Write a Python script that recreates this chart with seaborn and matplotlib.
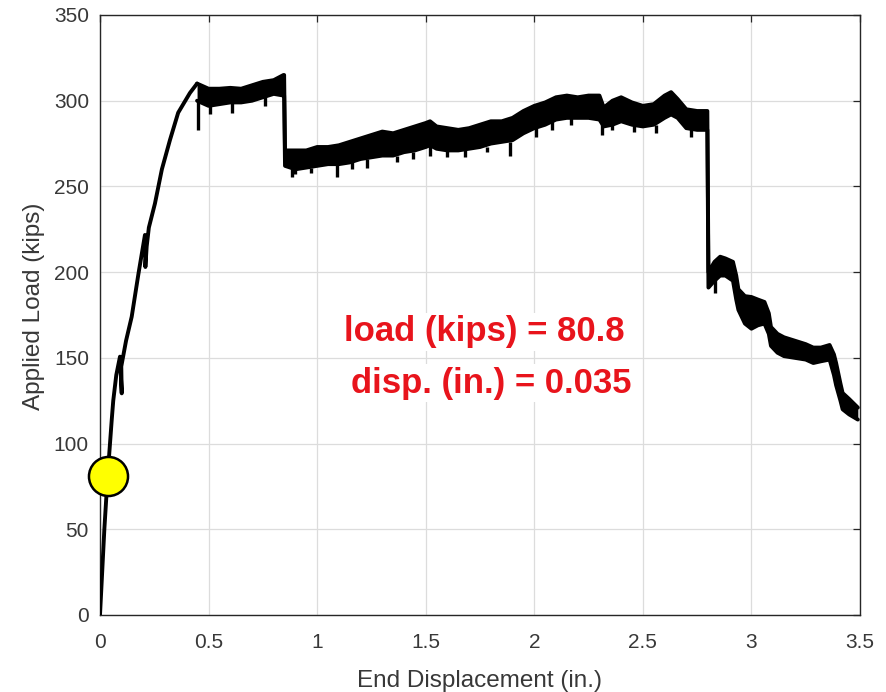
import numpy as np
import pandas as pd
import matplotlib
matplotlib.use("Agg")
import matplotlib.pyplot as plt
import seaborn as sns

# ---------------- data ----------------
# initial loading branch
disp_rise = [0.0, 0.01, 0.02, 0.035, 0.046, 0.054, 0.061, 0.075, 0.092, 0.10, 0.098,
             0.12, 0.146, 0.177, 0.207, 0.209, 0.215, 0.225, 0.253, 0.285, 0.322, 0.36, 0.414, 0.447]
load_rise = [0.0, 25.0, 50.0, 80.8, 100.0, 113.8, 125.0, 140.0, 150.7, 129.3, 145.0,
             160.0, 174.0, 199.0, 221.7, 203.0, 215.0, 226.0, 240.0, 260.0, 277.0, 293.0, 304.5, 310.0]

# cyclic band: upper and lower envelope
band_x = [0.447, 0.50, 0.55, 0.60, 0.65, 0.70, 0.75, 0.80, 0.845, 0.848,
          0.852, 0.90, 0.95, 1.00, 1.05, 1.10, 1.15, 1.20, 1.25, 1.30, 1.35, 1.40, 1.45,
          1.50, 1.52, 1.55, 1.60, 1.65, 1.70, 1.75, 1.80, 1.85, 1.90, 1.95, 2.00, 2.05,
          2.10, 2.15, 2.20, 2.25, 2.30, 2.32, 2.36, 2.40, 2.45, 2.50, 2.55, 2.60, 2.63,
          2.66, 2.70, 2.75, 2.797,
          2.802, 2.83, 2.856, 2.88, 2.915, 2.93, 2.94, 2.97, 3.00, 3.03, 3.06, 3.08, 3.09,
          3.12, 3.15, 3.20, 3.25, 3.285, 3.32, 3.36, 3.38, 3.39, 3.41, 3.42, 3.45, 3.49]
band_hi = [310, 307, 307, 307.5, 307, 309, 311, 312, 315, 315,
           271, 271, 271, 273, 273, 274, 276, 278, 280, 282, 281, 283, 285,
           287, 288, 285, 284, 283, 284, 286, 288, 288, 290, 294, 297, 299,
           302, 303, 302, 303, 303, 296, 300, 302, 299, 297, 298, 303, 305,
           301, 295, 294, 294,
           200, 206, 209, 208, 206, 198, 190, 186, 185.5, 184, 182.6, 176, 168,
           164, 162, 160, 158, 156, 156, 157.5, 152, 147, 135, 129.5, 126, 121]
band_lo = [300, 297, 298, 299, 299, 300, 302, 304, 303, 303,
           262, 260, 261, 262, 263, 263, 264, 266, 267, 268, 268, 270, 271,
           273, 274, 272, 271, 271, 272, 273, 275, 276, 277, 281, 284, 286,
           289, 290, 290, 290, 289, 285, 286, 288, 286, 285, 286, 290, 292,
           290, 284, 283, 283,
           191, 195, 198, 198, 195, 184, 178, 170, 167, 169, 170, 164, 157,
           153, 151, 150, 149, 147, 148, 149, 140, 134, 125, 120, 117, 114]

# isolated unloading spikes
spike_x   = [0.453, 0.506, 0.61, 0.76, 0.885, 0.90, 0.97, 1.09, 1.16, 1.23, 1.37, 1.44,
             1.52, 1.60, 1.68, 1.78, 1.89, 2.01, 2.08, 2.17, 2.31, 2.36, 2.46, 2.56, 2.72, 2.83]
spike_top = [300, 297, 299, 302, 262, 260, 261, 263, 264, 266, 268, 270,
             274, 271, 271, 273, 276, 284, 288, 290, 289, 286, 286, 286, 284, 196]
spike_lo  = [283, 292, 293, 297, 255.5, 257, 258, 255.5, 260, 261, 264, 266,
             268, 267, 267, 270, 268, 279, 283, 286, 280, 283, 282, 281, 279, 188]

marker_disp = 0.035
marker_load = 80.8

x_ticks = [0, 0.5, 1, 1.5, 2, 2.5, 3, 3.5]
x_tick_labels = ["0", "0.5", "1", "1.5", "2", "2.5", "3", "3.5"]
y_ticks = [0, 50, 100, 150, 200, 250, 300, 350]

# ---------------- figure ----------------
sns.set_style("white")
plt.rcParams["font.family"] = ["Liberation Sans", "DejaVu Sans"]

fig = plt.figure(figsize=(8.87, 6.92), dpi=100)
ax = fig.add_axes([100 / 887, 77 / 692, 760 / 887, 600 / 692])

ink = "#383838"

# band (cyclic loading region)
ax.fill_between(band_x, band_lo, band_hi, color="black", linewidth=0, zorder=3)
df_hi = pd.DataFrame({"x": band_x, "y": band_hi})
df_lo = pd.DataFrame({"x": band_x, "y": band_lo})
sns.lineplot(data=df_hi, x="x", y="y", sort=False, color="black", linewidth=2.8, ax=ax, zorder=4)
sns.lineplot(data=df_lo, x="x", y="y", sort=False, color="black", linewidth=2.8, ax=ax, zorder=4)

# rising branch
df_rise = pd.DataFrame({"x": disp_rise, "y": load_rise})
sns.lineplot(data=df_rise, x="x", y="y", sort=False, color="black", linewidth=2.8, ax=ax, zorder=4)

# spikes
ax.vlines(spike_x, spike_lo, spike_top, color="black", linewidth=2.4, zorder=4)

# current-point marker
sns.scatterplot(x=[marker_disp], y=[marker_load], s=39 * 39 * 0.52, color="#ffff00",
                edgecolor="black", linewidth=1.8, ax=ax, zorder=6, clip_on=False, legend=False)

# annotation
txt_kw = dict(color="#e8141c", fontsize=25, fontweight="bold", ha="center", va="center",
              zorder=7, bbox=dict(facecolor="white", edgecolor="none", pad=2))
ax.text(1.77, (615 - 332) / (600 / 350), "load (kips) = 80.8", **txt_kw)
ax.text(1.80, (615 - 383) / (600 / 350), "disp. (in.) = 0.035", **txt_kw)

# axes styling (MATLAB look)
ax.set_xlim(0, 3.5)
ax.set_ylim(0, 350)
ax.set_xticks(x_ticks)
ax.set_xticklabels(x_tick_labels)
ax.set_yticks(y_ticks)
ax.grid(True, color="#dcdcdc", linewidth=0.9)
ax.set_axisbelow(True)
for s in ax.spines.values():
    s.set_visible(True)
    s.set_color("#262626")
    s.set_linewidth(1.0)
ax.tick_params(direction="in", top=True, right=True, length=5, width=0.9,
               colors="#262626", labelcolor=ink, labelsize=15)
ax.tick_params(axis="x", pad=13)
ax.tick_params(axis="y", pad=8)
ax.set_xlabel("End Displacement (in.)", fontsize=17.5, color=ink)
ax.set_ylabel("Applied Load (kips)", fontsize=17.5, color=ink)
ax.xaxis.set_label_coords(0.5, -0.092)
ax.yaxis.set_label_coords(-0.072, 0.515)

fig.savefig("out.png", dpi=100)
